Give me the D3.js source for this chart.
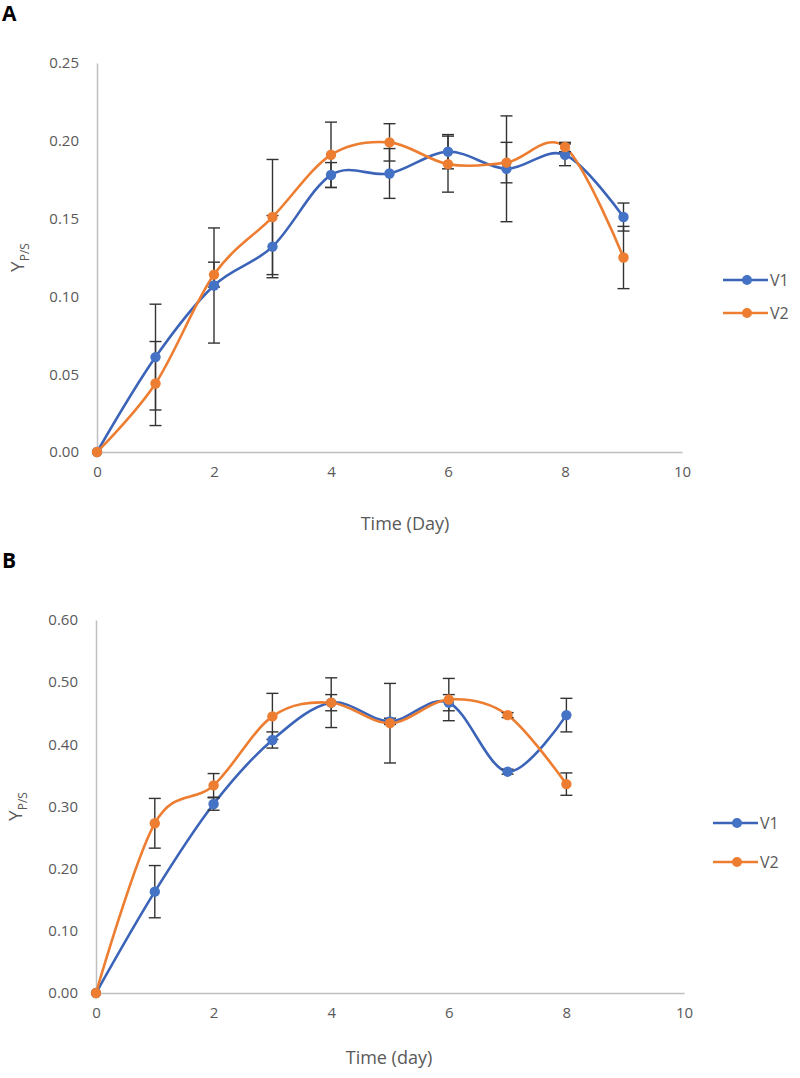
<!DOCTYPE html>
<html>
<head>
<meta charset="utf-8">
<script src="https://cdn.jsdelivr.net/npm/d3@7"></script>
<style>
  body { margin: 0; background: #fff; }
  svg { display: block; }
  text { font-family: "Open Sans", "Liberation Sans", sans-serif; }
</style>
</head>
<body>
<svg id="chart" width="800" height="1078"></svg>
<script>
// ---------- Panel A data ----------
const daysA = [0, 1, 2, 3, 4, 5, 6, 7, 8, 9];
const v1A = [0, 0.061, 0.107, 0.132, 0.178, 0.179, 0.193, 0.182, 0.191, 0.151];
const v1AErr = [0, 0.034, 0.037, 0.020, 0.008, 0.016, 0.011, 0.034, 0.007, 0.009];
const v2A = [0, 0.044, 0.114, 0.151, 0.191, 0.199, 0.185, 0.186, 0.196, 0.125];
const v2AErr = [0, 0.027, 0.008, 0.037, 0.021, 0.012, 0.018, 0.013, 0.003, 0.020];
const yTicksA = [0, 0.05, 0.10, 0.15, 0.20, 0.25];

// ---------- Panel B data ----------
const daysB = [0, 1, 2, 3, 4, 5, 6, 7, 8];
const v1B = [0, 0.163, 0.304, 0.407, 0.467, 0.437, 0.467, 0.356, 0.447];
const v1BErr = [0, 0.042, 0.010, 0.013, 0.013, 0.005, 0.013, 0.004, 0.027];
const v2B = [0, 0.273, 0.334, 0.445, 0.467, 0.434, 0.472, 0.447, 0.336];
const v2BErr = [0, 0.040, 0.019, 0.037, 0.040, 0.064, 0.034, 0.004, 0.018];
const yTicksB = [0, 0.1, 0.2, 0.3, 0.4, 0.5, 0.6];

const xTicks = [0, 2, 4, 6, 8, 10];
const seriesNames = ["V1", "V2"];
const colors = ["#4472C4", "#ED7D31"];
const lineColors = ["#3b64b8", "#ED7D31"];

const svg = d3.select("#chart");
const textColor = "#595959";
const axisColor = "#bfbfbf";

function panel(cfg) {
  const g = svg.append("g");
  const x = d3.scaleLinear().domain([0, 10]).range([cfg.x0, cfg.x1]);
  const y = d3.scaleLinear().domain([0, cfg.yMax]).range([cfg.yBottom, cfg.yTop]);

  // axes
  const xAxis = d3.axisBottom(x).tickValues(xTicks).tickSize(0).tickPadding(14).tickFormat(d3.format("d"));
  const gx = g.append("g").attr("transform", `translate(0,${cfg.yBottom})`).call(xAxis);
  gx.select(".domain").attr("stroke", axisColor).attr("stroke-width", 1.5);
  gx.selectAll("text").attr("fill", textColor).attr("font-size", 15);

  const yAxis = d3.axisLeft(y).tickValues(cfg.yTicks).tickSize(0).tickPadding(18).tickFormat(d3.format(".2f"));
  const gy = g.append("g").attr("transform", `translate(${cfg.x0},0)`).call(yAxis);
  gy.select(".domain").attr("stroke", axisColor).attr("stroke-width", 1.5);
  gy.selectAll("text").attr("fill", textColor).attr("font-size", 15);

  // panel letter
  g.append("text").attr("x", 2).attr("y", cfg.letterY)
    .attr("font-family", "Liberation Sans, Arial, sans-serif")
    .attr("font-weight", "bold").attr("font-size", 21).attr("fill", "#000")
    .text(cfg.letter);

  // y label
  const yl = g.append("text")
    .attr("transform", `translate(${cfg.yLabelX},${(cfg.yTop + cfg.yBottom) / 2}) rotate(-90)`)
    .attr("text-anchor", "middle").attr("fill", textColor).attr("font-size", 19);
  yl.append("tspan").text("Y");
  yl.append("tspan").attr("font-size", 12).attr("dy", 5).text("P/S");

  // x label
  g.append("text").attr("x", cfg.xLabelX).attr("y", cfg.xLabelY)
    .attr("text-anchor", "middle").attr("fill", textColor).attr("font-size", 18)
    .text(cfg.xLabel);

  const line = d3.line().x((d, i) => x(cfg.days[i])).y(d => y(d)).curve(d3.curveCardinal.tension(0));

  cfg.series.forEach((s, k) => {
    g.append("path").attr("d", line(s.values)).attr("fill", "none")
      .attr("stroke", lineColors[k]).attr("stroke-width", 2.6);
  });

  // error bars
  cfg.series.forEach((s, k) => {
    const eb = g.append("g").attr("stroke", "#333").attr("stroke-width", 1.4);
    s.values.forEach((v, i) => {
      const e = s.err[i];
      if (!e) return;
      const cx = x(cfg.days[i]);
      eb.append("line").attr("x1", cx).attr("x2", cx).attr("y1", y(v - e)).attr("y2", y(v + e));
      eb.append("line").attr("x1", cx - 6).attr("x2", cx + 6).attr("y1", y(v - e)).attr("y2", y(v - e));
      eb.append("line").attr("x1", cx - 6).attr("x2", cx + 6).attr("y1", y(v + e)).attr("y2", y(v + e));
    });
  });

  // markers
  cfg.series.forEach((s, k) => {
    g.append("g").selectAll("circle").data(s.values).join("circle")
      .attr("cx", (d, i) => x(cfg.days[i])).attr("cy", d => y(d)).attr("r", 5.2)
      .attr("fill", colors[k]);
  });

  // legend
  seriesNames.forEach((name, k) => {
    const ly = cfg.legendY[k];
    const lg = g.append("g");
    lg.append("line").attr("x1", cfg.legendX).attr("x2", cfg.legendX + 45)
      .attr("y1", ly).attr("y2", ly).attr("stroke", lineColors[k]).attr("stroke-width", 2.6);
    lg.append("circle").attr("cx", cfg.legendX + 24).attr("cy", ly).attr("r", 5).attr("fill", colors[k]);
    lg.append("text").attr("x", cfg.legendX + 47).attr("y", ly).attr("dy", "0.35em")
      .attr("fill", textColor).attr("font-size", 16).text(name);
  });
}

panel({
  letter: "A", letterY: 21,
  x0: 97, x1: 682, yTop: 63, yBottom: 452, yMax: 0.25, yTicks: yTicksA,
  days: daysA,
  series: [{ values: v1A, err: v1AErr }, { values: v2A, err: v2AErr }],
  yLabelX: 24, xLabel: "Time (Day)", xLabelX: 405, xLabelY: 530,
  legendX: 723, legendY: [280, 313]
});

panel({
  letter: "B", letterY: 568,
  x0: 96, x1: 684, yTop: 620, yBottom: 993, yMax: 0.6, yTicks: yTicksB,
  days: daysB,
  series: [{ values: v1B, err: v1BErr }, { values: v2B, err: v2BErr }],
  yLabelX: 22, xLabel: "Time (day)", xLabelX: 389, xLabelY: 1064,
  legendX: 713, legendY: [823, 862]
});
</script>
</body>
</html>
